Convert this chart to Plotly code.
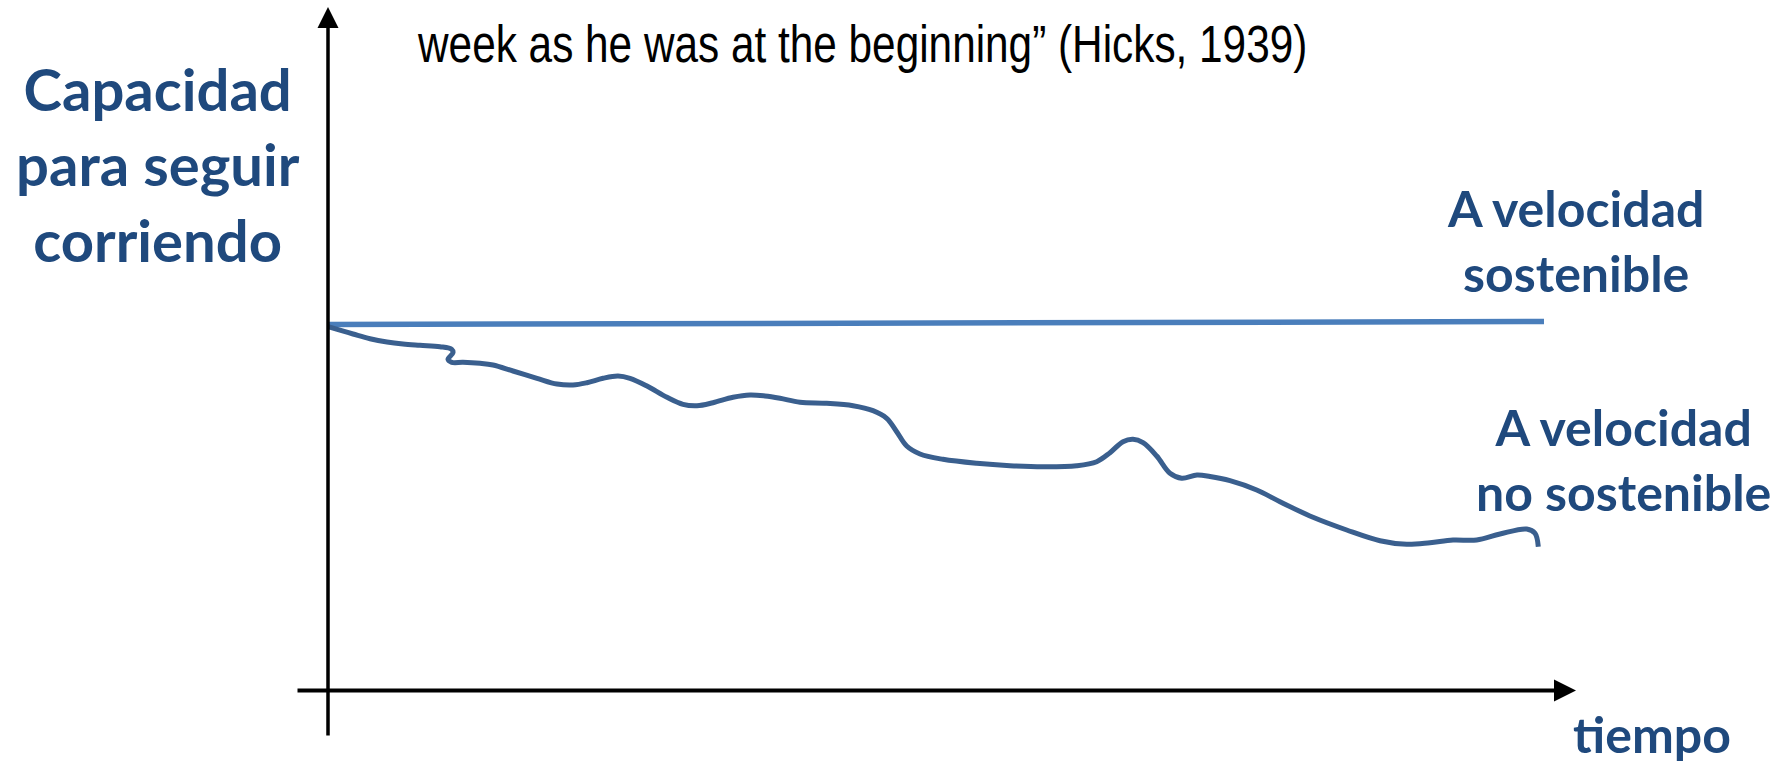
import plotly.graph_objects as go

# ---- data (time, capacity); origin at the axes crossing ----
sust_time = [0, 1216]
sust_cap = [366, 369]

unsust_time = [0, 25, 42, 59, 75, 92, 112, 123.7, 125, 120, 123.7, 135, 152, 165, 185, 209, 229, 245,
               259, 275, 290, 302, 319, 339, 355, 369, 385, 405, 422, 437, 452, 472, 498.7, 525,
               545, 558.7, 568.7, 578.7, 592, 615, 648.7, 682, 715, 748.7, 768.7, 782, 795, 805,
               815, 828.7, 842, 853.7, 869, 882, 902, 928.7, 952, 985, 1018.7, 1052, 1078.7, 1102,
               1125, 1148.7, 1172, 1198.7, 1207, 1210.3]
unsust_cap = [363.8, 356.5, 351.8, 348.5, 346.5, 345.2, 343.8, 341.2, 337.8, 331.2, 328.2, 328.2, 327.2,
              325.5, 319.5, 312.2, 306.5, 305.5, 307.8, 312.2, 314.5, 312.2, 304.5, 293.2, 286.2, 284.8,
              287.8, 293.2, 295.5, 294.5, 292.2, 288.2, 287.2, 284.8, 279.8, 272.2, 258.8, 244.5, 236.5,
              231.2, 227.2, 224.8, 223.8, 224.8, 228.8, 237.8, 248.8, 251.2, 247.8, 234.5, 217.2, 212.2,
              215.5, 214.0, 209.8, 200.5, 188.8, 173.2, 160.5, 149.8, 146.2, 147.8, 150.5, 150.5, 156.5,
              161.5, 157.2, 143.8]

# axis extents
time_axis = [-32, 1248]
cap_axis = [-46.5, 683.5]

# labels
y_label = "Capacidad<br>para seguir<br>corriendo"
x_label = "tiempo"
sust_label = "A velocidad<br>sostenible"
unsust_label = "A velocidad<br>no sostenible"
quote = "week as he was at the beginning\u201d (Hicks, 1939)"

TEXT_BLUE = "#1F497D"
LABEL_FONT = "Lato, 'Open Sans', sans-serif"

fig = go.Figure()
fig.add_trace(go.Scatter(x=sust_time, y=sust_cap, mode="lines",
                         line=dict(color="#4A7EBB", width=5.5), hoverinfo="skip"))
fig.add_trace(go.Scatter(x=unsust_time, y=unsust_cap, mode="lines",
                         line=dict(color="#3A5F8E", width=5, shape="spline", smoothing=1.0),
                         hoverinfo="skip"))

annotations = [
    # axes as arrows
    dict(x=0, y=cap_axis[1], ax=0, ay=cap_axis[0], xref="x", yref="y", axref="x", ayref="y",
         showarrow=True, arrowhead=2, arrowsize=1.2, arrowwidth=3.5, arrowcolor="black", text="",
         standoff=0, startstandoff=0),
    dict(x=time_axis[1], y=0, ax=time_axis[0], ay=0, xref="x", yref="y", axref="x", ayref="y",
         showarrow=True, arrowhead=2, arrowsize=1.1, arrowwidth=4, arrowcolor="black", text="",
         standoff=0, startstandoff=0),
    dict(x=-170, y=527, xref="x", yref="y", text=y_label, showarrow=False, xanchor="center",
         yanchor="middle", align="center",
         font=dict(family=LABEL_FONT, size=58, color=TEXT_BLUE, weight="bold")),
    dict(x=1247, y=449.7, xref="x", yref="y", text=sust_label, showarrow=False, xanchor="center",
         yanchor="middle", align="center",
         font=dict(family=LABEL_FONT, size=50, color=TEXT_BLUE, weight="bold")),
    dict(x=1295, y=231.3, xref="x", yref="y", text=unsust_label, showarrow=False, xanchor="center",
         yanchor="middle", align="center",
         font=dict(family=LABEL_FONT, size=50, color=TEXT_BLUE, weight="bold")),
    dict(x=1324, y=-43, xref="x", yref="y", text=x_label, showarrow=False, xanchor="center",
         yanchor="middle", align="center",
         font=dict(family=LABEL_FONT, size=50, color=TEXT_BLUE, weight="bold")),
    dict(x=534, y=646.5, xref="x", yref="y", text=quote, showarrow=False, xanchor="center",
         yanchor="middle", align="center",
         font=dict(family="'Liberation Sans Narrow', 'Arial Narrow', 'Liberation Sans', Arial, sans-serif",
                   size=51, color="black")),
]

fig.update_layout(
    width=1785, height=763,
    margin=dict(l=0, r=0, t=0, b=0, pad=0),
    paper_bgcolor="white", plot_bgcolor="white",
    showlegend=False,
    xaxis=dict(range=[-328, 1457], visible=False, fixedrange=True),
    yaxis=dict(range=[-72.5, 690.5], visible=False, fixedrange=True),
    annotations=annotations,
)

post = """
document.body.style.margin = '0';
document.body.style.overflow = 'hidden';
document.querySelectorAll('.annotation-text').forEach(function(el){
  if (el.textContent.indexOf('Hicks') >= 0) {
    var b = el.getBBox();
    var cx = b.x + b.width / 2;
    var t = el.getAttribute('transform') || '';
    el.setAttribute('transform', t + ' translate(' + cx + ',0) scale(0.83,1) translate(' + (-cx) + ',0)');
  }
});
"""

fig.write_html("out.html", post_script=post, config={"displayModeBar": False, "staticPlot": True})
